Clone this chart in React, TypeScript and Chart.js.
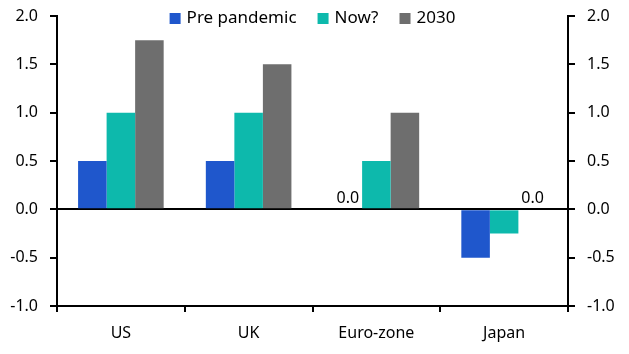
import React, { useEffect, useRef } from "react";
import { Chart, registerables } from "chart.js";

Chart.register(...registerables);

const categories = ["US", "UK", "Euro-zone", "Japan"];
const seriesNames = ["Pre pandemic", "Now?", "2030"];
const prePandemic = [0.5, 0.5, 0.0, -0.5];
const nowValues = [1.0, 1.0, 0.5, -0.25];
const values2030 = [1.75, 1.5, 1.0, 0.0];
const colors = ["#1F57CC", "#0DB9AC", "#6E6E6E"];
const yTicks = [-1.0, -0.5, 0.0, 0.5, 1.0, 1.5, 2.0];
// labels shown for zero-valued bars: [datasetIndex, categoryIndex]
const zeroLabels: [number, number][] = [
  [0, 2],
  [2, 3],
];

const FONT = "'Noto Sans', sans-serif";

const overlayPlugin = {
  id: "overlay",
  afterDatasetsDraw(chart: any) {
    const ctx = chart.ctx;
    ctx.save();
    ctx.fillStyle = "#000";
    ctx.font = `16px ${FONT}`;
    ctx.textAlign = "center";
    ctx.textBaseline = "bottom";
    const yScale = chart.scales.y;
    zeroLabels.forEach(([di, ci]) => {
      const meta = chart.getDatasetMeta(di);
      const el = meta.data[ci];
      const v = chart.data.datasets[di].data[ci];
      ctx.fillText(Number(v).toFixed(1), el.x, yScale.getPixelForValue(v) - 3);
    });
    // legend
    const items = chart.data.datasets.map((d: any) => ({ label: d.label, color: d.backgroundColor }));
    ctx.font = `17px ${FONT}`;
    ctx.textBaseline = "middle";
    ctx.textAlign = "left";
    const box = 11;
    const gapBoxText = 6;
    const gapItems = 21;
    const widths = items.map((it: any) => box + gapBoxText + ctx.measureText(it.label).width);
    const total = widths.reduce((a: number, b: number) => a + b, 0) + gapItems * (items.length - 1);
    let x = (chart.chartArea.left + chart.chartArea.right) / 2 - total / 2;
    const yc = 18.5;
    items.forEach((it: any, i: number) => {
      ctx.fillStyle = it.color;
      ctx.fillRect(x, yc - box / 2, box, box);
      ctx.fillStyle = "#000";
      ctx.fillText(it.label, x + box + gapBoxText, yc);
      x += widths[i] + gapItems;
    });
    ctx.restore();
  },
};

export default function App() {
  const ref = useRef<HTMLCanvasElement | null>(null);
  useEffect(() => {
    if (!ref.current) return;
    const tickCb = (v: any) => Number(v).toFixed(1);
    const yCommon = {
      type: "linear" as const,
      min: -1,
      max: 2,
      afterBuildTicks: (scale: any) => {
        scale.ticks = yTicks.map((v) => ({ value: v }));
      },
      border: { display: true, color: "#000", width: 2 },
      ticks: { color: "#000", font: { size: 16, family: FONT }, padding: 12, callback: tickCb },
    };
    const chart = new Chart(ref.current, {
      type: "bar",
      data: {
        labels: categories,
        datasets: [
          { label: seriesNames[0], data: prePandemic, backgroundColor: colors[0] },
          { label: seriesNames[1], data: nowValues, backgroundColor: colors[1] },
          { label: seriesNames[2], data: values2030, backgroundColor: colors[2] },
        ],
      },
      options: {
        animation: false,
        responsive: false,
        maintainAspectRatio: false,
        layout: { padding: { top: 16, bottom: 0, left: 0, right: 0 } },
        datasets: { bar: { categoryPercentage: 0.67, barPercentage: 1.0 } },
        plugins: { legend: { display: false }, tooltip: { enabled: false } },
        scales: {
          x: {
            border: { display: true, color: "#000", width: 2 },
            grid: {
              drawOnChartArea: false,
              drawTicks: true,
              tickLength: 6,
              tickColor: "#000",
              lineWidth: 2,
              offset: true,
            },
            ticks: { color: "#000", font: { size: 16, family: FONT }, padding: 12 },
            afterFit: (scale: any) => {
              scale.height = 48;
              scale.paddingLeft = 0;
              scale.paddingRight = 0;
            },
          },
          y: {
            ...yCommon,
            position: "left",
            grid: {
              drawOnChartArea: true,
              drawTicks: true,
              tickLength: 7,
              tickColor: "#000",
              lineWidth: 2,
              color: (c: any) => (c.tick && c.tick.value === 0 ? "#000" : "rgba(0,0,0,0)"),
            },
            afterFit: (scale: any) => {
              scale.width = 57;
              scale.paddingTop = 0;
              scale.paddingBottom = 0;
            },
          },
          y2: {
            ...yCommon,
            position: "right",
            grid: {
              drawOnChartArea: false,
              drawTicks: true,
              tickLength: 7,
              tickColor: "#000",
              lineWidth: 2,
            },
            afterFit: (scale: any) => {
              scale.width = 61;
              scale.paddingTop = 0;
              scale.paddingBottom = 0;
            },
          },
        },
      },
      plugins: [overlayPlugin],
    });
    return () => chart.destroy();
  }, []);
  return (
    <div style={{ position: "fixed", left: 0, top: 0, width: 629, height: 354, background: "#fff" }}>
      <canvas ref={ref} width={629} height={354} style={{ width: 629, height: 354 }} />
    </div>
  );
}
